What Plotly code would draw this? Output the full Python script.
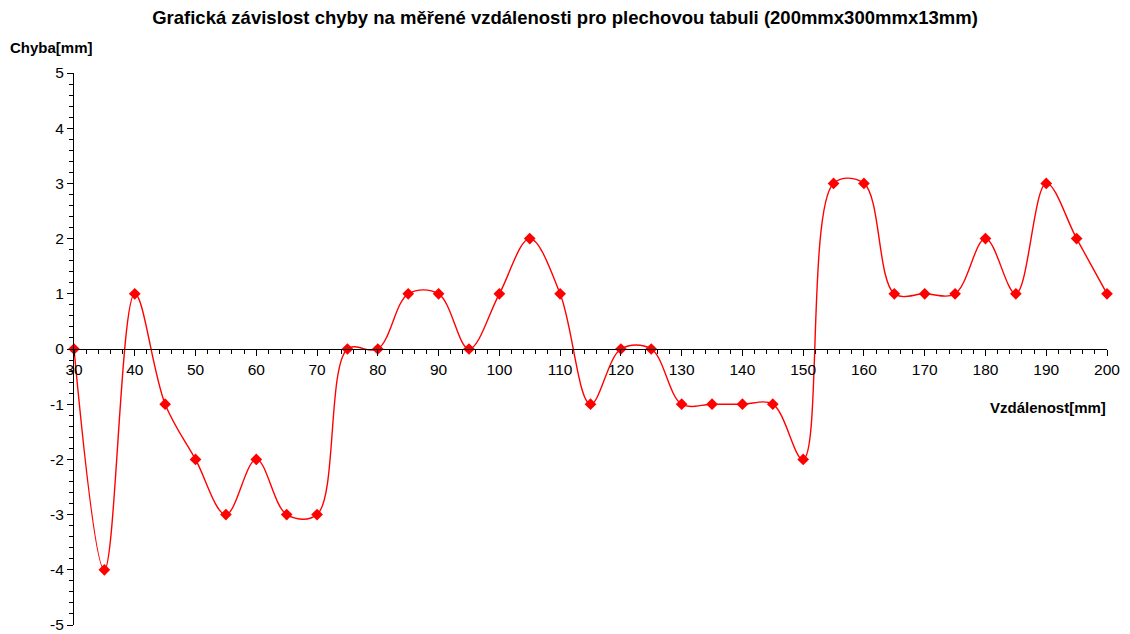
import plotly.graph_objects as go

# Measured distance [mm] and corresponding error [mm]
vzdalenost = [30, 35, 40, 45, 50, 55, 60, 65, 70, 75, 80, 85, 90, 95, 100, 105, 110, 115,
              120, 125, 130, 135, 140, 145, 150, 155, 160, 165, 170, 175, 180, 185, 190, 195, 200]
chyba = [0, -4, 1, -1, -2, -3, -2, -3, -3, 0, 0, 1, 1, 0, 1, 2, 1, -1,
         0, 0, -1, -1, -1, -1, -2, 3, 3, 1, 1, 1, 2, 1, 3, 2, 1]

x_ticks = [30, 40, 50, 60, 70, 80, 90, 100, 110, 120, 130, 140, 150, 160, 170, 180, 190, 200]
y_ticks = [-5, -4, -3, -2, -1, 0, 1, 2, 3, 4, 5]

FONT = "Liberation Sans, Arial, sans-serif"
RED = "#ff0000"

fig = go.Figure()
fig.add_trace(go.Scatter(
    x=vzdalenost, y=chyba,
    mode="lines+markers",
    line=dict(color=RED, width=1.4, shape="spline", smoothing=1.0),
    marker=dict(symbol="diamond", size=9, color=RED),
    showlegend=False,
    cliponaxis=False,
))

fig.update_layout(
    width=1130, height=634,
    margin=dict(l=74, r=23, t=73, b=9),
    paper_bgcolor="white", plot_bgcolor="white",
    font=dict(family=FONT, size=15, color="black"),
    title=dict(
        text="<b>Grafická závislost chyby na měřené vzdálenosti pro plechovou tabuli (200mmx300mmx13mm)</b>",
        x=0.5, xanchor="center", y=0.973, yanchor="middle",
        font=dict(family=FONT, size=18.5, color="black"),
    ),
    xaxis=dict(
        range=[30, 200], tickvals=x_ticks, ticktext=[str(v) for v in x_ticks],
        anchor="free", position=0.5, automargin=False,
        showline=True, linecolor="black", linewidth=1.2,
        ticks="outside", ticklen=6, tickcolor="black", tickwidth=1,
        minor=dict(dtick=2, tick0=30, ticks="outside", ticklen=4, tickcolor="black", tickwidth=1, showgrid=False),
        showgrid=False, zeroline=False,
        tickfont=dict(family=FONT, size=15.5),
    ),
    yaxis=dict(
        range=[-5, 5], tickvals=y_ticks, ticktext=[str(v) for v in y_ticks],
        automargin=False,
        showline=True, linecolor="black", linewidth=1.2,
        ticks="outside", ticklen=6, tickcolor="black", tickwidth=1,
        minor=dict(dtick=0.2, tick0=0, ticks="outside", ticklen=4, tickcolor="black", tickwidth=1, showgrid=False),
        showgrid=False, zeroline=False,
        tickfont=dict(family=FONT, size=15.5),
    ),
    annotations=[
        dict(text="<b>Chyba[mm]</b>", xref="paper", yref="paper",
             x=(51.5 - 74) / 1033, y=1 + (73 - 48) / 552, xanchor="center", yanchor="middle",
             showarrow=False, font=dict(family=FONT, size=15)),
        dict(text="<b>Vzdálenost[mm]</b>", xref="paper", yref="paper",
             x=(1047.5 - 74) / 1033, y=(625 - 407) / 552, xanchor="center", yanchor="middle",
             showarrow=False, font=dict(family=FONT, size=15)),
    ],
)

fig.write_html("out.html")
